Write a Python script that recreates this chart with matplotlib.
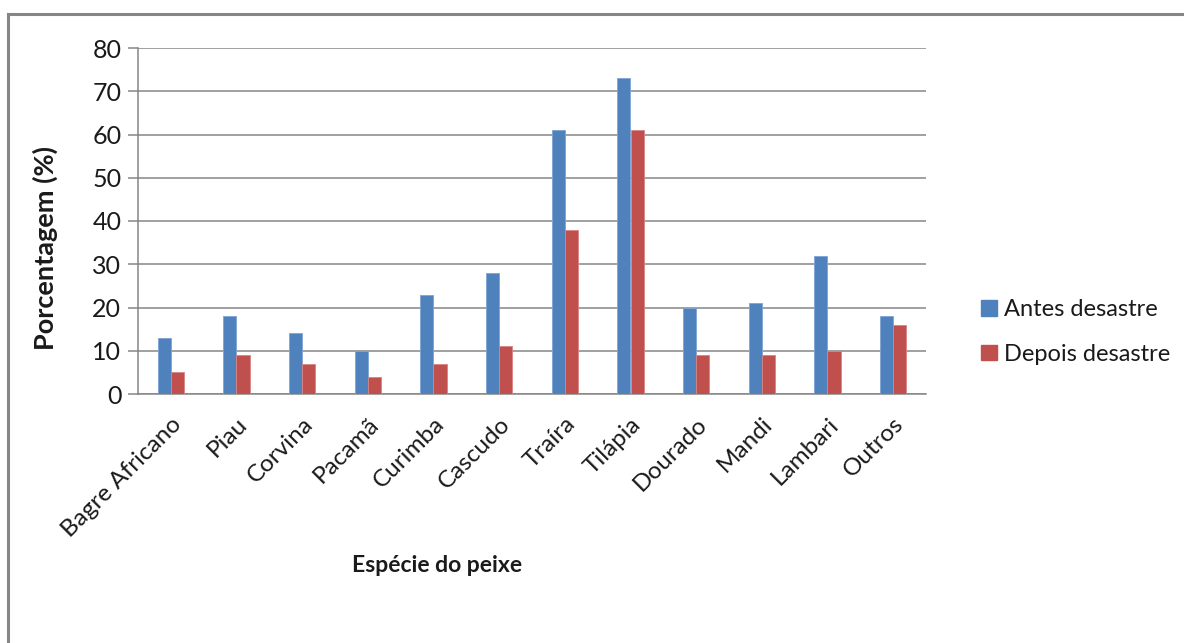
import numpy as np
import matplotlib

matplotlib.use("Agg")
import matplotlib.pyplot as plt
from matplotlib.patches import Patch
from matplotlib.lines import Line2D

plt.rcParams["font.family"] = ["Lato", "DejaVu Sans"]

especies = ["Bagre Africano", "Piau", "Corvina", "Pacamã", "Curimba", "Cascudo",
            "Traíra", "Tilápia", "Dourado", "Mandi", "Lambari", "Outros"]
antes = [13, 18, 14, 10, 23, 28, 61, 73, 20, 21, 32, 18]
depois = [5, 9, 7, 4, 7, 11, 38, 61, 9, 9, 10, 16]

BLUE, RED = "#4f81bd", "#c0504d"
GRAY = "#868686"
INK = "#1a1a1a"

W, H = 1184, 643
fig = plt.figure(figsize=(W / 100, H / 100), dpi=100)
fig.patch.set_facecolor("white")

# outer chart frame (right/bottom edges fall outside the image)
fig.add_artist(Line2D([8 / W, 8 / W], [0, 1 - 14 / H], color=GRAY, lw=2.2))
fig.add_artist(Line2D([8 / W, 1], [1 - 14 / H, 1 - 14 / H], color=GRAY, lw=2.2))

ax = fig.add_axes([138 / W, 1 - 394 / H, (926 - 138) / W, (394 - 48) / H])
x = np.arange(len(especies))
bw = 0.2
ax.bar(x - bw / 2, antes, bw, color=BLUE, edgecolor="#7ea3d4", linewidth=0.6, zorder=3)
ax.bar(x + bw / 2, depois, bw, color=RED, edgecolor="#d88583", linewidth=0.6, zorder=3)

ax.set_xlim(-0.5, len(especies) - 0.5)
ax.set_ylim(0, 80)
ax.set_yticks(range(0, 81, 10))
ax.yaxis.grid(True, color=GRAY, lw=1.1, zorder=0)
ax.set_axisbelow(True)
for s in ("top", "right"):
    ax.spines[s].set_visible(False)
for s in ("left", "bottom"):
    ax.spines[s].set_color(GRAY)
    ax.spines[s].set_linewidth(1.1)
ax.tick_params(axis="y", colors=GRAY, length=7, width=1.1, labelsize=18, labelcolor=INK, pad=5)
ax.tick_params(axis="x", length=0, labelsize=17.5, labelcolor=INK, pad=14)
ax.set_xticks(x)
ax.set_xticklabels(especies, rotation=45, ha="right", rotation_mode="anchor")

fig.text(437 / W, 1 - 565 / H, "Espécie do peixe", ha="center", va="center",
         fontsize=16.5, fontweight="bold", color=INK)
fig.text(45 / W, 1 - 248 / H, "Porcentagem (%)", ha="center", va="center",
         rotation=90, fontsize=19.5, fontweight="bold", color=INK)

fig.legend(handles=[Patch(color=BLUE, label="Antes desastre"),
                    Patch(color=RED, label="Depois desastre")],
           loc="center left", bbox_to_anchor=(960 / W, 1 - 332 / H), frameon=False,
           fontsize=17, handlelength=0.65, handleheight=0.65, handletextpad=0.3,
           labelspacing=1.0, labelcolor=INK)

fig.savefig("out.png", dpi=100)
